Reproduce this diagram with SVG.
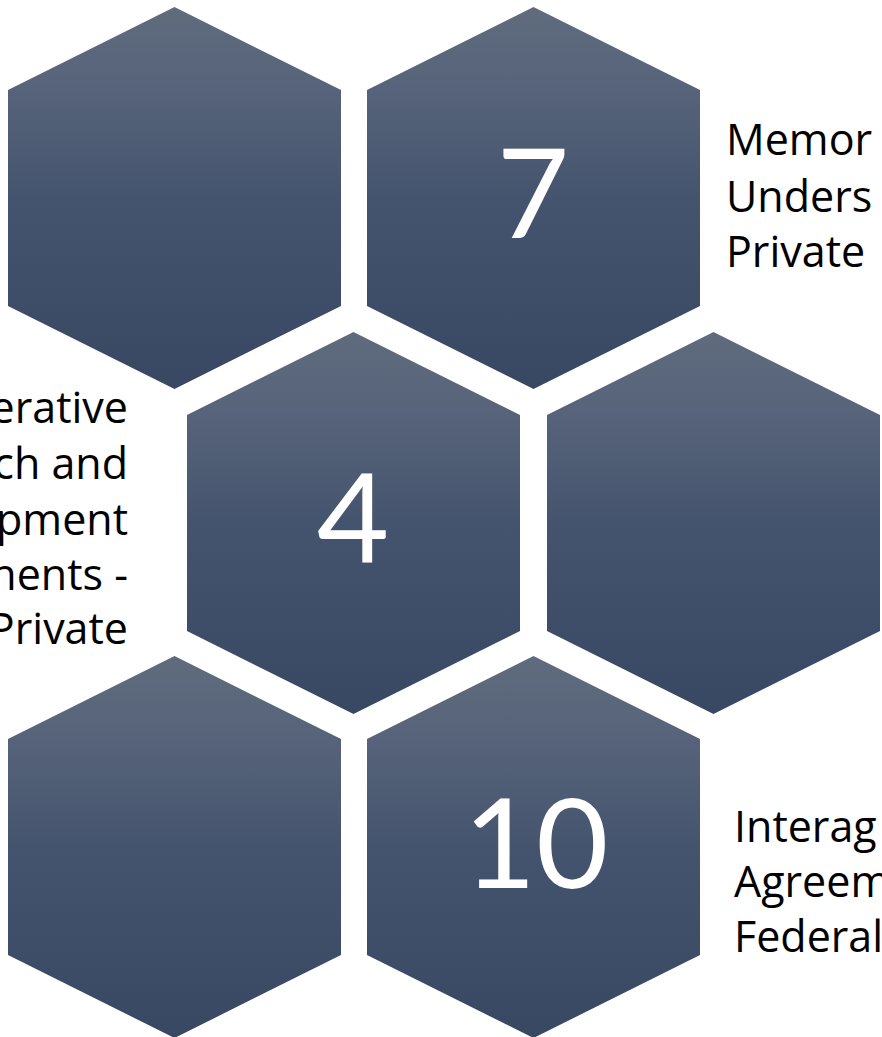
<svg xmlns="http://www.w3.org/2000/svg" xmlns:xlink="http://www.w3.org/1999/xlink" width="882" height="1037" viewBox="0 0 882 1037">
  <defs>
    <linearGradient id="hexFill" x1="0" y1="0" x2="0" y2="1">
      <stop offset="0" stop-color="#606c7d"/>
      <stop offset="0.22" stop-color="#56637a"/>
      <stop offset="0.5" stop-color="#45546e"/>
      <stop offset="1" stop-color="#394862"/>
    </linearGradient>
    <polygon id="hex" points="0,-191 166.5,-108 166.5,108 0,191 -166.5,108 -166.5,-108" fill="url(#hexFill)"/>
    <style>
      .num { font-family: Lato, "Open Sans", sans-serif; font-size: 125px; fill: #ffffff; text-anchor: middle; }
      .lbl { font-family: "Open Sans", Lato, sans-serif; font-size: 43px; fill: #000000; font-variant-ligatures: none; }
      .end { text-anchor: end; }
    </style>
  </defs>
  <rect width="882" height="1037" fill="#ffffff"/>
  <g id="connectors"/>
  <g id="hex-top-left">
    <use xlink:href="#hex" href="#hex" x="174.5" y="198"/>
  </g>
  <g id="hex-7">
    <use xlink:href="#hex" href="#hex" x="533.5" y="198"/>
    <text class="num" x="533" y="238">7</text>
  </g>
  <g id="hex-4">
    <use xlink:href="#hex" href="#hex" x="353.5" y="523"/>
    <text class="num" x="353" y="562">4</text>
  </g>
  <g id="hex-mid-right">
    <use xlink:href="#hex" href="#hex" x="713.5" y="523"/>
  </g>
  <g id="hex-bottom-left">
    <use xlink:href="#hex" href="#hex" x="174.5" y="847"/>
  </g>
  <g id="hex-10">
    <use xlink:href="#hex" href="#hex" x="533.5" y="847"/>
    <text class="num" x="536" y="888">10</text>
  </g>
  <g id="label-7">
    <text class="lbl" x="726" y="155">Memor</text>
    <text class="lbl" x="726" y="212">Unders</text>
    <text class="lbl" x="726" y="267">Private</text>
  </g>
  <g id="label-4">
    <text class="lbl end" x="128" y="423">erative</text>
    <text class="lbl end" x="128" y="479">ch and</text>
    <text class="lbl end" x="128" y="535">pment</text>
    <text class="lbl end" x="128" y="590">nents -</text>
    <text class="lbl end" x="128" y="644">Private</text>
  </g>
  <g id="label-10">
    <text class="lbl" x="734" y="842">Interag</text>
    <text class="lbl" x="734" y="897">Agreem</text>
    <text class="lbl" x="734" y="952">Federal</text>
  </g>
</svg>
